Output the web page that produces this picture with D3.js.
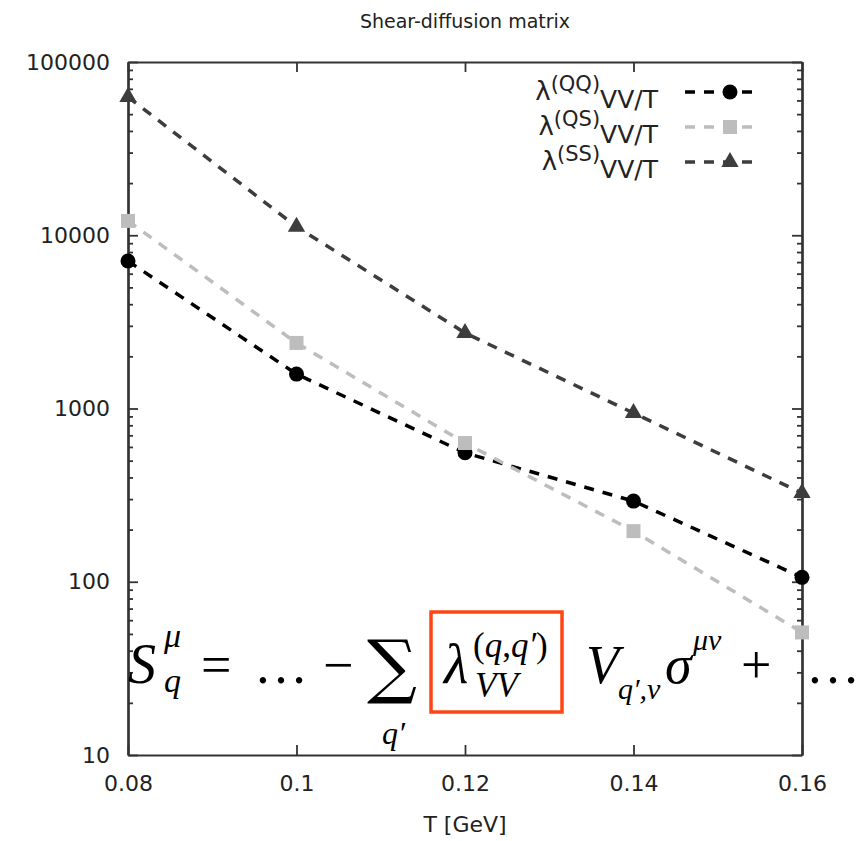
<!DOCTYPE html>
<html>
<head>
<meta charset="utf-8">
<script src="https://cdn.jsdelivr.net/npm/d3@7"></script>
<style>
  body { margin: 0; background: #fff; }
  text { font-family: "DejaVu Sans", sans-serif; fill: #222; }
  .math text, text.math { font-family: "Liberation Serif", "DejaVu Serif", serif; fill: #000; }
</style>
</head>
<body>
<svg id="chart" width="862" height="841"></svg>
<script>
// data
const temps = [0.08, 0.1, 0.12, 0.14, 0.16];
const lambdaQQ = [7100, 1580, 555, 292, 106];
const lambdaQS = [12100, 2390, 632, 196, 51];
const lambdaSS = [62800, 11200, 2730, 942, 325];
const seriesKeys = ['QQ', 'QS', 'SS'];
const xTicks = [0.08, 0.1, 0.12, 0.14, 0.16];
const yTicks = [10, 100, 1000, 10000, 100000];

const series = [
  { key: seriesKeys[0], values: lambdaQQ, color: '#000000', marker: 'circle' },
  { key: seriesKeys[1], values: lambdaQS, color: '#bdbdbd', marker: 'square' },
  { key: seriesKeys[2], values: lambdaSS, color: '#3d3d3d', marker: 'triangle' }
];

const svg = d3.select('#chart');
const margin = { top: 62, right: 60, bottom: 86, left: 128 };
const width = 862 - margin.left - margin.right;
const height = 841 - margin.top - margin.bottom;

const g = svg.append('g').attr('transform', `translate(${margin.left},${margin.top})`);

const x = d3.scaleLinear().domain([0.08, 0.16]).range([0, width]);
const y = d3.scaleLog().domain([10, 100000]).range([height, 0]);

// minor log ticks
const minorTicks = [];
yTicks.slice(0, -1).forEach(t => { for (let k = 2; k <= 9; k++) minorTicks.push(t * k); });

const axisColor = '#333';

// bottom axis with labels
const xAxis = g.append('g')
  .attr('transform', `translate(0,${height})`)
  .call(d3.axisBottom(x).tickValues(xTicks).tickSize(-10).tickSizeOuter(0).tickPadding(20)
    .tickFormat(d => d3.format('')(+d.toFixed(2))));
xAxis.selectAll('text').style('font-size', '22px').attr('fill', '#222');

// top axis, ticks only
g.append('g')
  .call(d3.axisTop(x).tickValues(xTicks).tickSize(-10).tickSizeOuter(0).tickFormat(''));

// left axis
const yAxis = g.append('g')
  .call(d3.axisLeft(y).tickValues(yTicks).tickSize(-10).tickSizeOuter(0).tickPadding(18)
    .tickFormat(d3.format('d')));
yAxis.selectAll('text').style('font-size', '22px').attr('fill', '#222');
g.append('g')
  .call(d3.axisLeft(y).tickValues(minorTicks).tickSize(-5).tickSizeOuter(0).tickFormat(''));

// right axis
g.append('g')
  .attr('transform', `translate(${width},0)`)
  .call(d3.axisRight(y).tickValues(yTicks).tickSize(-10).tickSizeOuter(0).tickFormat(''));
g.append('g')
  .attr('transform', `translate(${width},0)`)
  .call(d3.axisRight(y).tickValues(minorTicks).tickSize(-5).tickSizeOuter(0).tickFormat(''));

g.selectAll('.domain').attr('stroke', axisColor).attr('stroke-width', 2.2);
g.selectAll('.tick line').attr('stroke', axisColor).attr('stroke-width', 1.8);

// title + axis label
svg.append('text')
  .attr('x', 465).attr('y', 28)
  .attr('text-anchor', 'middle')
  .style('font-size', '19px')
  .text('Shear-diffusion matrix');

svg.append('text')
  .attr('x', 465).attr('y', 832)
  .attr('text-anchor', 'middle')
  .style('font-size', '22px')
  .text('T [GeV]');

// markers
function drawMarker(sel, type, color) {
  if (type === 'circle') {
    sel.append('circle').attr('r', 7.5).attr('fill', color);
  } else if (type === 'square') {
    sel.append('rect').attr('x', -7).attr('y', -7).attr('width', 14).attr('height', 14).attr('fill', color);
  } else {
    sel.append('path').attr('d', d3.symbol(d3.symbolTriangle, 130)()).attr('fill', color);
  }
}

const line = d3.line().x(d => x(d[0])).y(d => y(d[1]));

series.forEach(s => {
  const pts = temps.map((t, i) => [t, s.values[i]]);
  g.append('path')
    .datum(pts)
    .attr('d', line)
    .attr('fill', 'none')
    .attr('stroke', s.color)
    .attr('stroke-width', 3.5)
    .attr('stroke-dasharray', '10,9');
  g.selectAll(null)
    .data(pts)
    .enter()
    .append('g')
    .attr('transform', d => `translate(${x(d[0])},${y(d[1])})`)
    .each(function() { drawMarker(d3.select(this), s.marker, s.color); });
});

// legend
const legend = svg.append('g');
series.forEach((s, i) => {
  const cy = 92 + i * 35;
  const txt = legend.append('text')
    .attr('x', 658).attr('y', cy + 8)
    .attr('text-anchor', 'end')
    .style('font-size', '26px');
  txt.append('tspan').text('λ');
  txt.append('tspan').attr('dy', -9).style('font-size', '21px').text(`(${s.key})`);
  txt.append('tspan').attr('dy', 17).style('font-size', '25px').text('VV/T');
  legend.append('line')
    .attr('x1', 685).attr('x2', 756)
    .attr('y1', cy).attr('y2', cy)
    .attr('stroke', s.color)
    .attr('stroke-width', 3.5)
    .attr('stroke-dasharray', '10,9');
  const m = legend.append('g').attr('transform', `translate(730,${cy})`);
  drawMarker(m, s.marker, s.color);
});

// formula overlay
const math = svg.append('g').attr('class', 'math');
function mtext(str, xPos, yPos, size, italic) {
  return math.append('text')
    .attr('x', xPos).attr('y', yPos)
    .style('font-size', size + 'px')
    .style('font-style', italic ? 'italic' : 'normal')
    .text(str);
}
mtext('S', 128, 683, 56, true);
mtext('μ', 164, 647, 34, true);
mtext('q', 164, 692, 34, true);
mtext('=', 201, 683, 54, false);
mtext('…', 254, 683, 54, false);
mtext('−', 323, 683, 54, false);
mtext('∑', 367, 690, 70, false).style('font-family', '"DejaVu Serif", serif');
mtext('q′', 382, 744, 32, true);
mtext('λ', 444, 683, 56, true);
const sup = math.append('text').attr('x', 473).attr('y', 657).style('font-size', '35px');
sup.append('tspan').text('(');
sup.append('tspan').style('font-style', 'italic').text('q');
sup.append('tspan').text(',');
sup.append('tspan').style('font-style', 'italic').text('q′');
sup.append('tspan').text(')');
mtext('VV', 475, 697, 35, true);
mtext('V', 586, 683, 54, true);
mtext('q′,ν', 618, 699, 30, true);
mtext('σ', 665, 683, 54, true);
mtext('μν', 693, 650, 30, true);
mtext('+', 741, 683, 54, false);
mtext('…', 806, 683, 54, false);

svg.append('rect')
  .attr('x', 431).attr('y', 612)
  .attr('width', 131).attr('height', 100)
  .attr('fill', 'none')
  .attr('stroke', '#ff4513')
  .attr('stroke-width', 3.5);
</script>
</body>
</html>
